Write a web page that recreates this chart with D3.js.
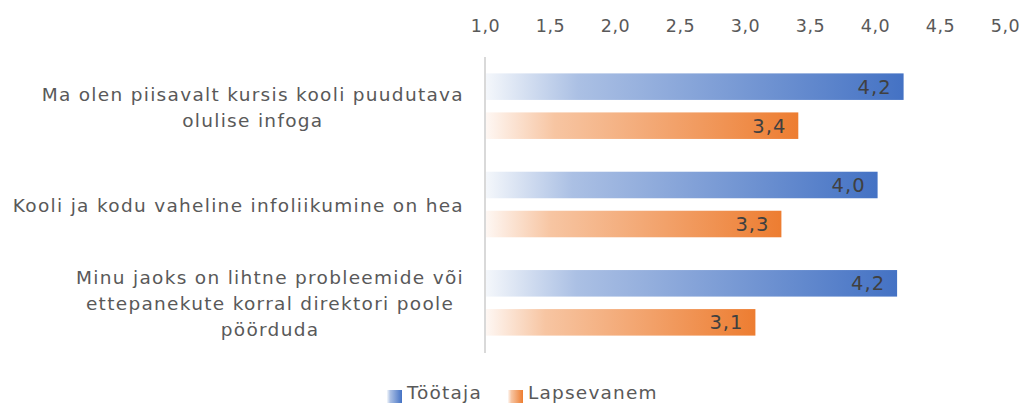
<!DOCTYPE html>
<html>
<head>
<meta charset="utf-8">
<script src="https://cdn.jsdelivr.net/npm/d3@7"></script>
<style>
  body { margin: 0; background: #fff; }
  svg { font-family: "DejaVu Sans", sans-serif; }
</style>
</head>
<body>
<script>
// Datos del gráfico
const categorias = [
  ["Ma olen piisavalt kursis kooli puudutava", "olulise infoga"],
  ["Kooli ja kodu vaheline infoliikumine on hea"],
  ["Minu jaoks on lihtne probleemide või", "ettepanekute korral direktori poole", "pöörduda"]
];
const series = ["Töötaja", "Lapsevanem"];
const valoresTootaja = [4.22, 4.02, 4.17];
const valoresLapsevanem = [3.41, 3.28, 3.08];
const ticks = [1.0, 1.5, 2.0, 2.5, 3.0, 3.5, 4.0, 4.5, 5.0];
const colores = ["#4472c4", "#ed7d31"];

const width = 1026, height = 407;
const margin = { left: 485, right: 21, top: 57, bottom: 55 };

const svg = d3.select("body").append("svg")
  .attr("width", width).attr("height", height);

// gradientes (blanco a la izquierda, color a la derecha)
const defs = svg.append("defs");
series.forEach((s, i) => {
  const g = defs.append("linearGradient").attr("id", "grad" + i)
    .attr("x1", "0%").attr("x2", "100%").attr("y1", "0%").attr("y2", "0%");
  const c = d3.color(colores[i]);
  g.append("stop").attr("offset", "0%").attr("stop-color", d3.interpolateRgb("#ffffff", c)(0.06));
  g.append("stop").attr("offset", "22%").attr("stop-color", d3.interpolateRgb("#ffffff", c)(0.45));
  g.append("stop").attr("offset", "100%").attr("stop-color", c.formatHex());
});

const fmt = v => d3.format(".1f")(v).replace(".", ",");

const xScale = d3.scaleLinear().domain([1, 5]).range([margin.left, width - margin.right]);
const y0 = d3.scaleBand().domain(d3.range(categorias.length))
  .range([margin.top, height - margin.bottom]);
const y1 = d3.scaleBand().domain(series).range([0, y0.bandwidth()])
  .paddingInner(0.32).paddingOuter(0.42);

// eje X arriba
const ejeX = d3.axisTop(xScale).tickValues(ticks).tickFormat(fmt).tickSize(0);
const gx = svg.append("g").attr("transform", "translate(0,35)").call(ejeX);
gx.select(".domain").remove();
gx.selectAll("text").attr("fill", "#595959").style("font-size", "17.5px")
  .style("font-family", "DejaVu Sans, sans-serif")
  .style("letter-spacing", "0.5px");

// línea vertical del eje
svg.append("line")
  .attr("x1", xScale(1)).attr("x2", xScale(1))
  .attr("y1", margin.top).attr("y2", height - margin.bottom + 1)
  .attr("stroke", "#d9d9d9").attr("stroke-width", 2);

// barras
const datos = [];
categorias.forEach((c, i) => {
  datos.push({ cat: i, serie: series[0], valor: valoresTootaja[i], idx: 0 });
  datos.push({ cat: i, serie: series[1], valor: valoresLapsevanem[i], idx: 1 });
});

svg.append("g").selectAll("rect").data(datos).enter().append("rect")
  .attr("x", xScale(1) + 1)
  .attr("y", d => y0(d.cat) + y1(d.serie))
  .attr("width", d => xScale(d.valor) - xScale(1) - 1)
  .attr("height", y1.bandwidth())
  .attr("fill", d => "url(#grad" + d.idx + ")");

svg.append("g").selectAll("text").data(datos).enter().append("text")
  .attr("x", d => xScale(d.valor) - 12)
  .attr("y", d => y0(d.cat) + y1(d.serie) + y1.bandwidth() / 2)
  .attr("dy", "0.36em")
  .attr("text-anchor", "end")
  .attr("fill", "#404040")
  .style("font-size", "19.5px")
  .style("letter-spacing", "1px")
  .text(d => fmt(d.valor));

// etiquetas de categoría (bloque alineado a la derecha, líneas centradas)
const lineH = 26;
categorias.forEach((lineas, i) => {
  const g = svg.append("g");
  const cy = y0(i) + y0.bandwidth() / 2 + 1;
  const tx = lineas.map((l, j) => g.append("text")
    .attr("y", cy + (j - (lineas.length - 1) / 2) * lineH)
    .attr("dy", "0.36em")
    .attr("text-anchor", "middle")
    .attr("fill", "#595959")
    .style("font-size", "18.5px")
    .style("letter-spacing", "1.3px")
    .text(l));
  const anchos = tx.map(t => t.node().getComputedTextLength());
  const maxW = d3.max(anchos);
  const derecha = 464;
  tx.forEach(t => t.attr("x", derecha - maxW / 2));
});

// leyenda
const leyenda = svg.append("g").attr("transform", "translate(0,392)");
const posLeyenda = [387, 508];
series.forEach((s, i) => {
  const lg = leyenda.append("g").attr("transform", `translate(${posLeyenda[i]},0)`);
  lg.append("rect").attr("x", 0).attr("y", -2).attr("width", 15).attr("height", 13)
    .attr("fill", "url(#grad" + i + ")");
  lg.append("text").attr("x", 20).attr("dy", "0.36em")
    .attr("fill", "#595959").style("font-size", "18.5px")
    .style("letter-spacing", "1.2px").text(s);
});
</script>
</body>
</html>
